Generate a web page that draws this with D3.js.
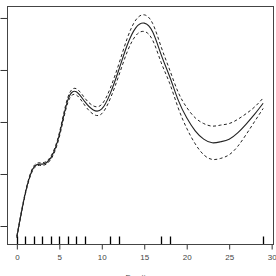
<!DOCTYPE html>
<html>
<head>
<meta charset="utf-8">
<script src="https://cdn.jsdelivr.net/npm/d3@7/dist/d3.min.js"></script>
<style>
	body { margin: 0; background: #fff; }
	svg { display: block; }
	text { font-family: "Liberation Sans", Arial, sans-serif; }
</style>
</head>
<body>
<svg id="chart" width="276" height="276"></svg>
<script>
// smooth term estimate (x = 0..29)
var xValues = [0, 1, 2, 3, 4, 5, 6, 7, 8, 9, 10, 11, 12, 13, 14, 15, 16, 17, 18, 19, 20, 21, 22, 23, 24, 25, 26, 27, 28, 29];
var fitValues = [-22.1, -13.7, -8.7, -8.1, -6.9, -2.5, 4.2, 5.8, 3.9, 2.3, 2.5, 5.5, 10.0, 14.8, 18.1, 19.0, 17.3, 12.9, 8.7, 4.2, 0.8, -1.7, -3.3, -4.0, -3.8, -3.3, -2.1, -0.4, 1.5, 3.6];
var halfWidth = [0.2, 0.2, 0.25, 0.25, 0.3, 0.4, 0.5, 0.6, 0.7, 0.8, 0.9, 1.0, 1.1, 1.3, 1.5, 1.6, 1.6, 1.5, 1.3, 1.5, 2.0, 2.5, 3.0, 3.2, 3.2, 3.0, 2.6, 2.0, 1.4, 1.0];
var rugValues = [0, 1, 2, 3, 4, 5, 6, 7, 8, 11, 12, 17, 18, 29];
var xTicks = [0, 5, 10, 15, 20, 25, 30];
var yTicks = [-20, -10, 0, 10, 20];
var xLabel = "Fraction";

var box = {left: 7, top: 6, right: 273, bottom: 244};
var svg = d3.select("#chart");

var xScale = d3.scaleLinear().domain([-1.16, 30.16]).range([box.left, box.right]);
var yScale = d3.scaleLinear().domain([-23.46, 22.3]).range([box.bottom, box.top]);

var fitData = xValues.map(function(x, i) { return {x: x, y: fitValues[i]}; });
var upperData = xValues.map(function(x, i) { return {x: x, y: fitValues[i] + halfWidth[i]}; });
var lowerData = xValues.map(function(x, i) { return {x: x, y: fitValues[i] - halfWidth[i]}; });

var line = d3.line()
	.x(function(d) { return xScale(d.x); })
	.y(function(d) { return yScale(d.y); })
	.curve(d3.curveNatural);

var plot = svg.append("g");

plot.append("path").datum(upperData)
	.attr("d", line).attr("fill", "none")
	.attr("stroke", "#222").attr("stroke-width", 1)
	.attr("stroke-dasharray", "3,2.5");
plot.append("path").datum(lowerData)
	.attr("d", line).attr("fill", "none")
	.attr("stroke", "#222").attr("stroke-width", 1)
	.attr("stroke-dasharray", "3,2.5");
plot.append("path").datum(fitData)
	.attr("d", line).attr("fill", "none")
	.attr("stroke", "#222").attr("stroke-width", 1.1);

// rug
plot.selectAll("line.rug")
	.data(rugValues)
	.enter().append("line")
	.attr("class", "rug")
	.attr("x1", function(d) { return Math.round(xScale(d)) + 0.5; })
	.attr("x2", function(d) { return Math.round(xScale(d)) + 0.5; })
	.attr("y1", box.bottom + 0.5)
	.attr("y2", box.bottom - 7.5)
	.attr("stroke", "#000").attr("stroke-width", 1.3);

// axes (y labels fall outside the picture, so only the ticks are drawn)
var xAxis = d3.axisBottom(xScale).tickValues(xTicks).tickSize(5).tickPadding(5);
var yAxis = d3.axisLeft(yScale).tickValues(yTicks).tickSize(7).tickFormat("");

var gx = svg.append("g")
	.attr("transform", "translate(0," + (box.bottom + 0.5) + ")")
	.call(xAxis);
gx.select(".domain").remove();
gx.selectAll("line").attr("stroke", "#333");
gx.selectAll("text").attr("font-size", 8).attr("fill", "#444").style("font-family", "Liberation Sans, Arial, sans-serif");

var gy = svg.append("g")
	.attr("transform", "translate(" + (box.left + 0.5) + ",0)")
	.call(yAxis);
gy.select(".domain").remove();
gy.selectAll("line").attr("stroke", "#333");

// frame
svg.append("rect")
	.attr("x", box.left + 0.5).attr("y", box.top + 0.5)
	.attr("width", box.right - box.left).attr("height", box.bottom - box.top)
	.attr("fill", "none").attr("stroke", "#444").attr("stroke-width", 1);

svg.append("text")
	.attr("x", xScale(14.5)).attr("y", 280)
	.attr("text-anchor", "middle")
	.attr("font-size", 8).attr("fill", "#444")
	.text(xLabel);
</script>
</body>
</html>
